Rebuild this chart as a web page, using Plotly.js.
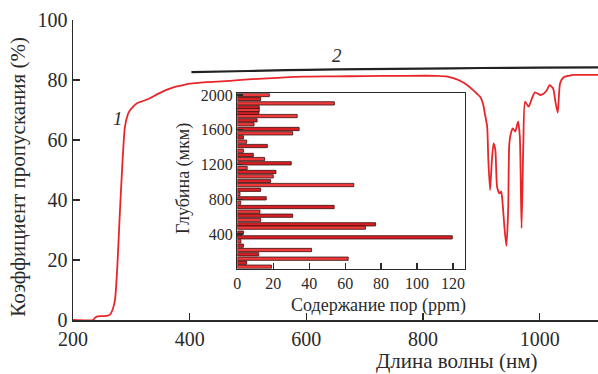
<!DOCTYPE html>
<html>
<head>
<meta charset="utf-8">
<script src="https://cdn.plot.ly/plotly-3.0.1.min.js"></script>
<style>html,body{margin:0;padding:0;background:#fff;}#chart{width:598px;height:374px;}</style>
</head>
<body>
<div id="chart"></div>
<script>
// Curve 1: transmission spectrum
const wl1 = [200, 234, 238, 242, 250, 258, 263, 268, 272, 276, 280, 285, 289, 294, 298, 304, 309, 320, 332, 345, 360, 375, 389, 400, 418, 440, 469, 500, 550, 595, 650, 700, 766, 823, 840, 852, 865, 875, 885, 892, 898, 903, 906, 910, 912, 915, 918, 921, 924, 927, 931, 934, 936, 940, 943, 946, 948, 951, 954, 958, 963, 966, 969, 972, 975, 981, 986, 992, 1001, 1006, 1012, 1017, 1023, 1027, 1031, 1035, 1041, 1050, 1058, 1080, 1100];
const tr1 = [0, 0, 0.8, 1.2, 1.3, 1.4, 1.7, 3.5, 6.7, 17.8, 34.4, 53.3, 64.4, 68.5, 70, 71.3, 72.2, 73, 73.9, 75.3, 76.7, 77.7, 78.3, 78.8, 79.1, 79.4, 79.7, 80.2, 80.7, 81.1, 81.2, 81.3, 81.4, 81.4, 81.2, 80.6, 79.6, 78.4, 76.8, 75.5, 74.4, 72, 68.9, 64.4, 53.3, 43.3, 53, 58.9, 56.7, 44.4, 42.2, 42.8, 40, 30, 24.7, 36.7, 58.9, 62.5, 63.9, 62.8, 66.1, 61.1, 30.6, 58.9, 72.8, 71.1, 73.5, 75.9, 75, 75.3, 76.5, 78.3, 77.2, 72.8, 69.1, 78.9, 80.9, 81.4, 81.7, 81.7, 81.7];
// Curve 2
const wl2 = [403, 500, 600, 700, 800, 900, 1000, 1100];
const tr2 = [82.6, 83.0, 83.4, 83.6, 83.8, 84.0, 84.1, 84.2];
// Inset: pore content vs depth
const depth = [2000, 1954, 1904, 1858, 1827, 1789, 1758, 1709, 1663, 1609, 1559, 1513, 1463, 1413, 1359, 1310, 1263, 1214, 1160, 1114, 1064, 1010, 964, 910, 861, 811, 761, 711, 657, 611, 562, 512, 473, 416, 389, 362, 316, 266, 216, 167, 116, 70, 24];
const pores = [17.8, 13, 54, 12.2, 12.2, 12, 33.3, 11, 9.3, 34.4, 30.8, 3.4, 5.2, 16.7, 3.4, 8.9, 15.2, 30, 5.5, 21.5, 20, 18.5, 64.8, 13, 1.5, 16.1, 1.9, 53.9, 12.6, 30.8, 13, 76.9, 71.3, 3.4, 2.3, 119.6, 2, 3.4, 41.3, 11.9, 61.7, 5.2, 19];
const xTicks = [200, 400, 600, 800, 1000];
const yTicks = [0, 20, 40, 60, 80, 100];
const x2Ticks = [0, 20, 40, 60, 80, 100, 120];
const y2Ticks = [400, 800, 1200, 1600, 2000];

const serif = "'Liberation Serif', 'DejaVu Serif', serif";
const ink = "#2a2a2a";
const red = "#e8262a";

const traces = [
  {x: wl1, y: tr1, type: 'scatter', mode: 'lines', line: {color: red, width: 1.8, shape: 'spline', smoothing: 0.6}, xaxis: 'x', yaxis: 'y', hoverinfo: 'skip'},
  {x: wl2, y: tr2, type: 'scatter', mode: 'lines', line: {color: '#222', width: 2.2, shape: 'spline'}, xaxis: 'x', yaxis: 'y', hoverinfo: 'skip'},
  {x: pores, y: depth, type: 'bar', orientation: 'h', width: 38,
   marker: {color: pores.map((v, i) => i % 2 ? '#d82024' : '#f03a3a'), line: {color: '#3a1010', width: 0.8}},
   xaxis: 'x2', yaxis: 'y2', hoverinfo: 'skip'}
];

const axisCommon = {showgrid: false, zeroline: false, showline: true, linecolor: ink, ticks: 'inside', tickcolor: ink, color: ink};

const layout = {
  width: 598, height: 374,
  margin: {l: 73, r: 0, t: 20, b: 54},
  paper_bgcolor: '#fff', plot_bgcolor: 'rgba(0,0,0,0)',
  showlegend: false,
  font: {family: serif, color: ink},
  xaxis: Object.assign({}, axisCommon, {domain: [0, 1], range: [200, 1100], tickvals: xTicks, ticklen: 7, linewidth: 1.5, tickwidth: 1.5, tickfont: {size: 20, family: serif, color: ink}, anchor: 'y'}),
  yaxis: Object.assign({}, axisCommon, {domain: [0, 1], range: [0, 100], tickvals: yTicks, ticklen: 7, linewidth: 1.5, tickwidth: 1.5, tickfont: {size: 20, family: serif, color: ink}, anchor: 'x'}),
  xaxis2: Object.assign({}, axisCommon, {domain: [0.313, 0.7467], range: [0, 126.7], tickvals: x2Ticks, ticklen: 6, linewidth: 1.3, tickwidth: 1.3, mirror: true, tickfont: {size: 16, family: serif, color: ink}, anchor: 'y2'}),
  yaxis2: Object.assign({}, axisCommon, {domain: [0.1707, 0.7557], range: [0, 2020], tickvals: y2Ticks, ticklen: 6, linewidth: 1.3, tickwidth: 1.3, mirror: true, tickfont: {size: 16, family: serif, color: ink}, anchor: 'x2'}),
  shapes: [
    {type: 'rect', xref: 'x2 domain', yref: 'y2 domain', x0: 0, x1: 1, y0: 0, y1: 1, fillcolor: '#fff', line: {width: 0}, layer: 'below'}
  ],
  annotations: [
    {text: 'Коэффициент пропускания (%)', xref: 'paper', yref: 'paper', x: -0.105, y: 0.477, xanchor: 'center', yanchor: 'middle', textangle: -90, showarrow: false, font: {size: 21, family: serif, color: ink}},
    {text: 'Длина волны (нм)', xref: 'paper', yref: 'paper', x: 0.731, y: -0.137, xanchor: 'center', yanchor: 'middle', showarrow: false, font: {size: 21, family: serif, color: ink}},
    {text: 'Содержание пор (ppm)', xref: 'paper', yref: 'paper', x: 0.581, y: 0.05, xanchor: 'center', yanchor: 'middle', showarrow: false, font: {size: 18, family: serif, color: ink}},
    {text: 'Глубина (мкм)', xref: 'paper', yref: 'paper', x: 0.2095, y: 0.473, xanchor: 'center', yanchor: 'middle', textangle: -90, showarrow: false, font: {size: 18, family: serif, color: ink}},
    {text: '<i>1</i>', xref: 'x', yref: 'y', x: 277, y: 67.3, xanchor: 'center', yanchor: 'middle', showarrow: false, font: {size: 19, family: serif, color: ink}},
    {text: '<i>2</i>', xref: 'x', yref: 'y', x: 652, y: 88.3, xanchor: 'center', yanchor: 'middle', showarrow: false, font: {size: 19, family: serif, color: ink}}
  ]
};

Plotly.newPlot('chart', traces, layout, {staticPlot: true, displayModeBar: false});
</script>
</body>
</html>
